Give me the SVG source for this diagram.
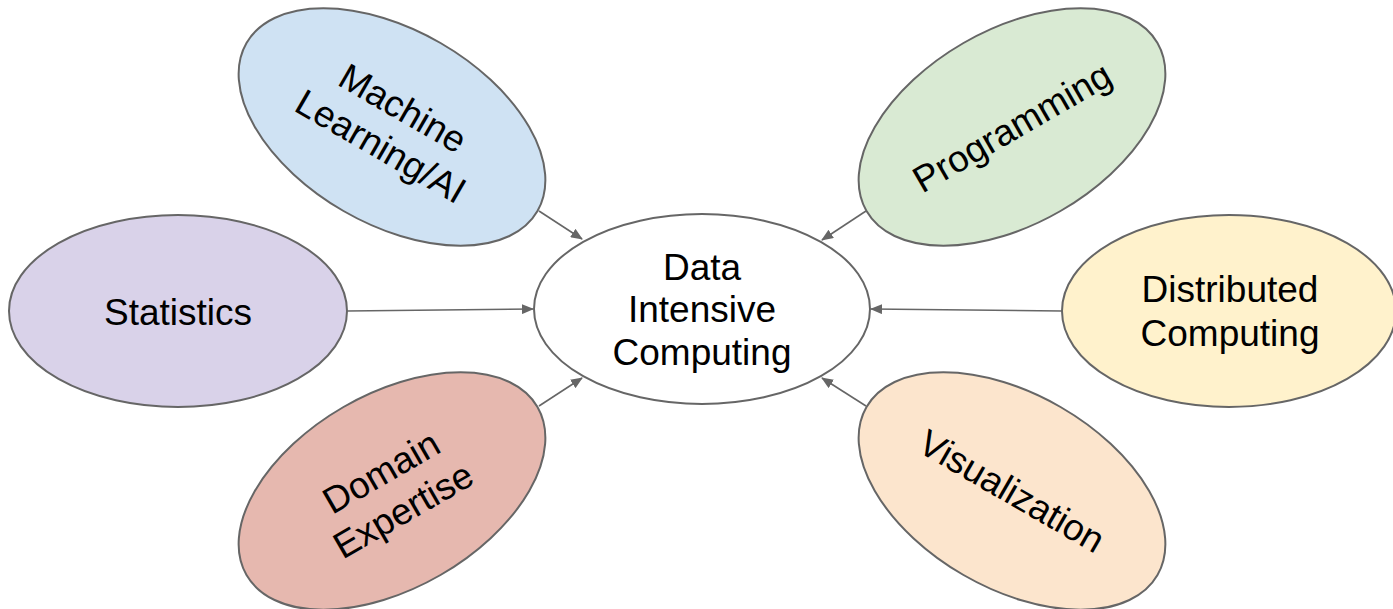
<svg xmlns="http://www.w3.org/2000/svg" width="1393" height="609" viewBox="0 0 1393 609">
<style>
.node ellipse{stroke:#666666;stroke-width:2}
.node text{font-family:"Liberation Sans",Arial,sans-serif;font-size:37px;fill:#000000;text-anchor:middle}
.conn line{stroke:#666666;stroke-width:1.6;fill:none}
</style>
<defs>
<marker id="ah" markerUnits="userSpaceOnUse" markerWidth="12" markerHeight="10" refX="11" refY="5" orient="auto">
<path d="M0,0 L12,5 L0,10 z" fill="#666666"/>
</marker>
</defs>
<rect width="1393" height="609" fill="#ffffff"/>
<g id="connectors" class="conn">
<line x1="347" y1="311" x2="533" y2="309" marker-end="url(#ah)"/>
<line x1="1062" y1="311" x2="871" y2="309" marker-end="url(#ah)"/>
<line x1="539" y1="211" x2="582" y2="239" marker-end="url(#ah)"/>
<line x1="866" y1="211" x2="822" y2="240" marker-end="url(#ah)"/>
<line x1="539" y1="406" x2="582" y2="378" marker-end="url(#ah)"/>
<line x1="866" y1="406" x2="822" y2="378" marker-end="url(#ah)"/>
</g>
<g id="center" class="node">
<ellipse cx="702" cy="309" rx="168" ry="95" fill="#ffffff"/>
<text x="702" y="280">Data</text>
<text x="702" y="322">Intensive</text>
<text x="702" y="365">Computing</text>
</g>
<g id="statistics" class="node">
<ellipse cx="178" cy="311" rx="169" ry="96" fill="#d9d2e9"/>
<text x="178" y="325">Statistics</text>
</g>
<g id="distributed" class="node">
<ellipse cx="1229" cy="311" rx="167" ry="96" fill="#fff2cc"/>
<text x="1230" y="302">Distributed</text>
<text x="1230" y="346">Computing</text>
</g>
<g id="ml" class="node" transform="translate(392,127) rotate(30)">
<ellipse cx="0" cy="0" rx="168" ry="97" fill="#cfe2f3"/>
<text x="0" y="-9">Machine</text>
<text x="0" y="35">Learning/AI</text>
</g>
<g id="programming" class="node" transform="translate(1012,127) rotate(-30)">
<ellipse cx="0" cy="0" rx="168" ry="97" fill="#d9ead3"/>
<text x="0" y="13">Programming</text>
</g>
<g id="domain" class="node" transform="translate(392,491) rotate(-30)">
<ellipse cx="0" cy="0" rx="168" ry="97" fill="#e6b8af"/>
<text x="0" y="-9">Domain</text>
<text x="0" y="35">Expertise</text>
</g>
<g id="visualization" class="node" transform="translate(1012,491) rotate(30)">
<ellipse cx="0" cy="0" rx="168" ry="97" fill="#fce5cd"/>
<text x="0" y="13">Visualization</text>
</g>
</svg>
